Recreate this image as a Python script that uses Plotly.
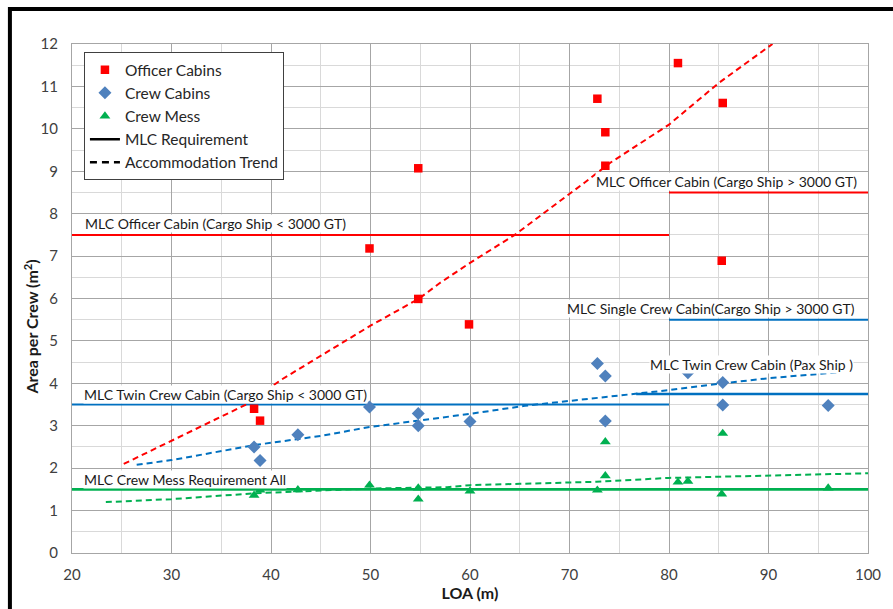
import plotly.graph_objects as go

# ---------------- data ----------------
officer_loa = [38.3, 38.9, 49.9, 54.8, 54.8, 59.9, 72.8, 73.6, 73.6, 80.9, 85.4, 85.3]
officer_area = [3.40, 3.12, 7.18, 9.07, 5.99, 5.39, 10.71, 9.92, 9.13, 11.55, 10.61, 6.89]

crew_loa = [38.3, 38.9, 42.7, 49.9, 54.8, 54.8, 60.0, 72.8, 73.6, 73.6, 81.9, 85.4, 85.4, 96.0]
crew_area = [2.50, 2.18, 2.79, 3.44, 3.29, 3.00, 3.10, 4.47, 4.17, 3.11, 4.25, 4.02, 3.49, 3.48]

mess_loa = [38.3, 38.9, 42.7, 49.9, 54.8, 54.8, 60.0, 72.8, 73.6, 73.6, 80.9, 81.9, 85.3, 85.4, 96.0]
mess_area = [1.36, 1.48, 1.49, 1.60, 1.53, 1.27, 1.46, 1.48, 1.82, 2.62, 1.67, 1.69, 1.39, 2.82, 1.53]

# trend lines
officer_trend_loa = [25.2, 30, 37.5, 41, 46, 50, 54.9, 57, 60, 64.5, 71.5, 74.1, 80, 85, 90.4]
officer_trend_area = [2.10, 2.65, 3.50, 4.08, 4.80, 5.36, 6.00, 6.37, 6.84, 7.50, 8.73, 9.20, 10.10, 11.08, 12.0]

crew_trend_loa = [26.5, 30, 38.5, 45, 49.9, 55, 60, 65.5, 72.7, 80, 85.4, 90, 97.5]
crew_trend_area = [2.08, 2.19, 2.55, 2.76, 2.97, 3.12, 3.28, 3.47, 3.65, 3.84, 4.00, 4.12, 4.27]

mess_trend_loa = [23.4, 30, 38.5, 45, 50, 57.7, 60, 65, 72.7, 80, 90, 100]
mess_trend_area = [1.20, 1.27, 1.41, 1.48, 1.52, 1.55, 1.60, 1.63, 1.68, 1.77, 1.82, 1.88]

# MLC requirement lines
mlc_names = ["MLC Officer Cabin (Cargo Ship < 3000 GT)",
             "MLC Officer Cabin (Cargo Ship > 3000 GT)",
             "MLC Single Crew Cabin(Cargo Ship > 3000 GT)",
             "MLC Twin Crew Cabin (Pax Ship )",
             "MLC Twin Crew Cabin (Cargo Ship < 3000 GT)",
             "MLC Crew Mess Requirement All"]
mlc_x0 = [20, 80, 80, 76.7, 20, 20]
mlc_x1 = [80, 100, 100, 100, 80, 100]
mlc_value = [7.5, 8.5, 5.5, 3.75, 3.5, 1.5]
mlc_label_x = [21.2, 72.55, 69.65, 77.95, 21.1, 21.1]
mlc_label_y = [7.78, 8.76, 5.76, 4.45, 3.73, 1.74]

x_ticks = [20, 30, 40, 50, 60, 70, 80, 90, 100]
y_ticks = list(range(0, 13))

# ---------------- styles ----------------
RED = "#ff0000"
BLUE_MK = "#4f81bd"
BLUE_LN = "#0070c0"
GREEN = "#00b050"
mlc_colors = [RED, RED, BLUE_LN, BLUE_LN, BLUE_LN, GREEN]
mlc_widths = [2, 2, 2, 2.6, 2, 2.6]
FONT = "Lato, 'Liberation Sans', sans-serif"

fig = go.Figure()

for i in range(len(mlc_names)):
    fig.add_trace(go.Scatter(x=[mlc_x0[i], mlc_x1[i]], y=[mlc_value[i], mlc_value[i]],
                             mode="lines", line=dict(color=mlc_colors[i], width=mlc_widths[i]),
                             showlegend=False, hoverinfo="skip"))

for tx, ty, c in [(officer_trend_loa, officer_trend_area, RED),
                  (crew_trend_loa, crew_trend_area, BLUE_LN),
                  (mess_trend_loa, mess_trend_area, GREEN)]:
    fig.add_trace(go.Scatter(x=tx, y=ty, mode="lines",
                             line=dict(color=c, width=2, dash="6px,4px"),
                             showlegend=False, hoverinfo="skip"))

fig.add_trace(go.Scatter(x=officer_loa, y=officer_area, mode="markers", name="Officer Cabins",
                         marker=dict(symbol="square", size=8.5, color=RED), legendrank=1))
fig.add_trace(go.Scatter(x=crew_loa, y=crew_area, mode="markers", name="Crew Cabins",
                         marker=dict(symbol="diamond", size=10, color=BLUE_MK), legendrank=2))
fig.add_trace(go.Scatter(x=mess_loa, y=mess_area, mode="markers", name="Crew Mess",
                         marker=dict(symbol="triangle-up", size=9.5, color=GREEN), legendrank=3))
fig.add_trace(go.Scatter(x=[None], y=[None], mode="lines", name="MLC Requirement",
                         line=dict(color="black", width=2.5), legendrank=4))
fig.add_trace(go.Scatter(x=[None], y=[None], mode="lines", name="Accommodation Trend",
                         line=dict(color="black", width=2.5, dash="7px,5px"), legendrank=5))

annotations = []
for i in range(len(mlc_names)):
    annotations.append(dict(x=mlc_label_x[i], y=mlc_label_y[i], xref="x", yref="y",
                            text=mlc_names[i], showarrow=False, xanchor="left", yanchor="middle",
                            font=dict(family=FONT, size=14, color="#1a1a1a"),
                            bgcolor="white", borderpad=0, height=17))
annotations.append(dict(x=-0.052, y=0.444, xref="paper", yref="paper", textangle=-90,
                        text="<b>Area per Crew (m<sup>2</sup>)</b>", showarrow=False,
                        xanchor="center", yanchor="middle",
                        font=dict(family=FONT, size=16, color="#1a1a1a")))

grid_major = "#a6a6a6"
grid_minor = "#d9d9d9"

fig.update_layout(
    width=893, height=609,
    margin=dict(l=72, r=20, t=44, b=56),
    paper_bgcolor="white", plot_bgcolor="white",
    font=dict(family=FONT, size=15, color="#404040"),
    showlegend=True,
    legend=dict(x=0.015, y=0.984, xanchor="left", yanchor="top",
                bgcolor="white", bordercolor="#404040", borderwidth=1,
                font=dict(family=FONT, size=15.5, color="#262626"),
                traceorder="normal", tracegroupgap=0),
    xaxis=dict(range=[20, 100], tickvals=x_ticks, ticktext=[str(v) for v in x_ticks],
               showgrid=True, gridcolor=grid_major, gridwidth=1,
               minor=dict(dtick=5, showgrid=True, gridcolor=grid_minor, gridwidth=1),
               showline=True, linecolor=grid_major, linewidth=1, mirror=True,
               zeroline=False, ticks="", ticklabelstandoff=8,
               title=dict(text="<b>LOA (m)</b>", font=dict(family=FONT, size=16, color="#1a1a1a"),
                          standoff=2)),
    yaxis=dict(range=[0, 12], tickvals=y_ticks, ticktext=[str(v) for v in y_ticks],
               showgrid=True, gridcolor=grid_major, gridwidth=1,
               minor=dict(dtick=0.5, showgrid=True, gridcolor=grid_minor, gridwidth=1),
               showline=True, linecolor=grid_major, linewidth=1, mirror=True,
               zeroline=False, ticks="", ticklabelstandoff=10),
    annotations=annotations,
    shapes=[dict(type="rect", xref="paper", yref="paper", x0=-0.078, x1=1.3, y0=-0.4, y1=1.069,
                 line=dict(color="black", width=4), fillcolor="rgba(0,0,0,0)", layer="above")],
)

fig.write_html("out.html", config={"displayModeBar": False},
               post_script="document.body.style.margin='0';")
